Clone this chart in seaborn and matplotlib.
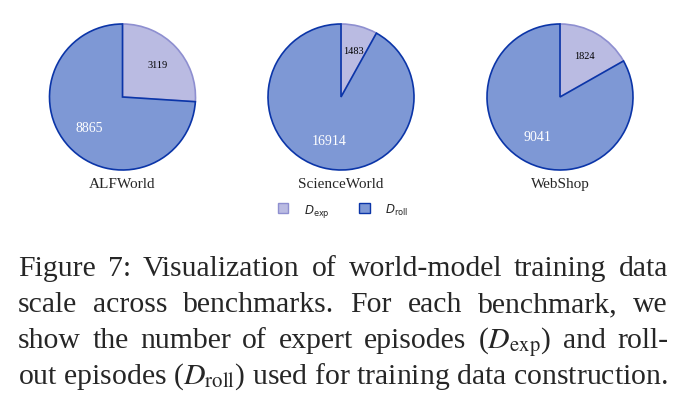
import numpy as np
import seaborn as sns
import matplotlib
matplotlib.use("Agg")
from matplotlib import pyplot as plt
from matplotlib.patches import Patch

# data
benchmarks = ["ALFWorld", "ScienceWorld", "WebShop"]
d_exp = [3119, 1483, 1824]
d_roll = [8865, 16914, 9041]
series_labels = [r"$D_{\mathrm{exp}}$", r"$D_{\mathrm{roll}}$"]

caption_lines = [
    "Figure 7:  Visualization of world-model training data",
    "scale across benchmarks.  For each benchmark, we",
    r"show the number of expert episodes ($D_{\mathrm{exp}}$) and roll-",
    r"out episodes ($D_{\mathrm{roll}}$) used for training data construction.",
]

sns.set_theme(style="white")
plt.rcParams["font.family"] = ["Liberation Serif", "DejaVu Serif"]
plt.rcParams["mathtext.fontset"] = "stix"

exp_fill, exp_edge = "#babbe2", "#8e8fd0"
roll_fill, roll_edge = "#7e98d5", "#0b35a8"

W, H = 691, 406
fig = plt.figure(figsize=(W / 100, H / 100), dpi=100)

centers_x = [122.5, 341, 560]
cy = 98
r = 73
half = 80
for i, name in enumerate(benchmarks):
    ax = fig.add_axes([(centers_x[i] - half) / W, 1 - (cy + half) / H,
                       2 * half / W, 2 * half / H])
    vals = [d_exp[i], d_roll[i]]
    wedges, _ = ax.pie(vals, startangle=90, counterclock=False,
                       colors=[exp_fill, roll_fill], radius=1.0,
                       wedgeprops=dict(linewidth=1.2))
    wedges[0].set_edgecolor(exp_edge)
    wedges[1].set_edgecolor(roll_edge)
    wedges[1].set_zorder(3)
    # value labels
    for w, v, col, fs, d in zip(wedges, vals, ["black", "white"], [7.5, 10], [0.66, 0.62]):
        mid = np.deg2rad((w.theta1 + w.theta2) / 2)
        ax.text(d * np.cos(mid), d * np.sin(mid), str(v), ha="center",
                va="center", color=col, fontsize=fs, zorder=5)
    lim = half / r
    ax.set_xlim(-lim, lim)
    ax.set_ylim(-lim, lim)
    ax.set_aspect("equal")
    ax.axis("off")
    fig.text(centers_x[i] / W, 1 - 185 / H, name, ha="center", va="center",
             fontsize=11)

handles = [Patch(facecolor=exp_fill, edgecolor=exp_edge, linewidth=1.0),
           Patch(facecolor=roll_fill, edgecolor=roll_edge, linewidth=1.0)]
leg = fig.legend(handles, series_labels, loc="center", ncol=2, frameon=False,
                 bbox_to_anchor=(343 / W, 1 - 211 / H), fontsize=8.5,
                 handlelength=0.9, handleheight=0.9, columnspacing=2.5,
                 handletextpad=1.3)
for t in leg.get_texts():
    t.set_family("DejaVu Sans")
    t.set_math_fontfamily("dejavusans")

# caption, justified like the paper text
renderer = fig.canvas.get_renderer()
x0, x1 = 18, 668
baselines = [276, 312, 348, 384]
cap_fs = 21.4


def text_width(s):
    t = fig.text(0, 0, s, fontsize=cap_fs)
    w = t.get_window_extent(renderer).width
    t.remove()
    return w


for k, line in enumerate(caption_lines):
    y = 1 - baselines[k] / H
    if k == len(caption_lines) - 1:
        fig.text(x0 / W, y, line, fontsize=cap_fs, va="baseline")
        continue
    words = line.split()
    widths = [text_width(wd) for wd in words]
    gap = (x1 - x0 - sum(widths)) / (len(words) - 1)
    x = x0
    for wd, wdw in zip(words, widths):
        fig.text(x / W, y, wd, fontsize=cap_fs, va="baseline")
        x += wdw + gap

fig.savefig("out.png", dpi=100)
